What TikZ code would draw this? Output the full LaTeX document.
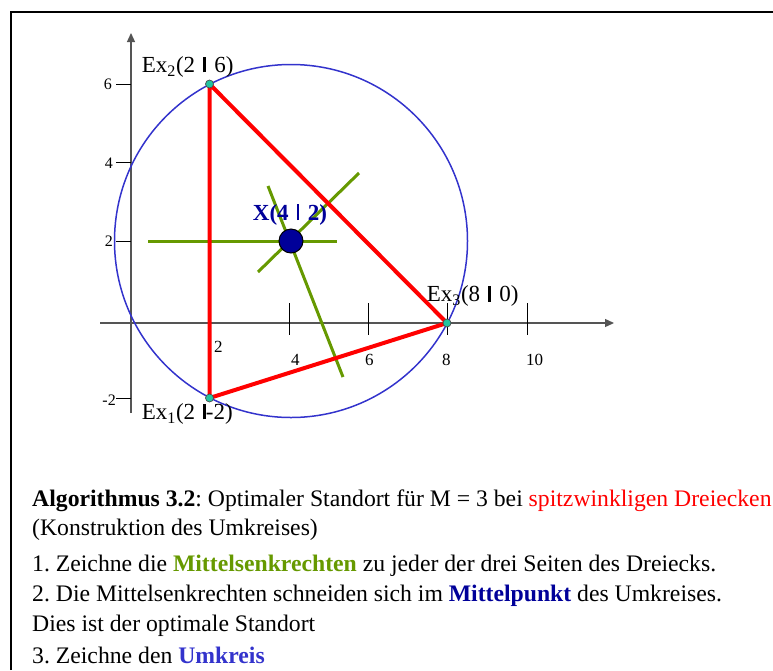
\documentclass[tikz,border=0pt]{standalone}
\usepackage{fontspec}
\setmainfont{Liberation Serif}
\usetikzlibrary{arrows.meta}
\definecolor{mgreen}{HTML}{669900}
\definecolor{mdblue}{HTML}{000099}
\definecolor{mcirc}{HTML}{3333CC}
\definecolor{mteal}{HTML}{22C4A0}
\definecolor{maxis}{HTML}{555555}
\newcommand{\vbar}{\hspace{0.36em}\rule{0.11em}{0.68em}\hspace{0.36em}}
\newcommand{\vbarr}{\hspace{0.36em}\rule{0.11em}{0.68em}}
\begin{document}
\frenchspacing
\begin{tikzpicture}[x=1pt,y=-1pt,
  axisline/.style={maxis,line width=1.3pt},
  tickline/.style={black,line width=1pt},
  triside/.style={red,line width=4pt,line join=round},
  bisect/.style={mgreen,line width=3pt},
  vtx/.style={circle,fill=mteal,draw=black!70,line width=0.7pt,inner sep=0pt,minimum size=8pt},
  ylab/.style={anchor=base east,inner sep=0pt,font=\fontsize{16}{19}\selectfont},
  xlab/.style={anchor=base west,inner sep=0pt,font=\fontsize{17}{20}\selectfont},
  exlab/.style={anchor=base west,inner sep=0pt,font=\fontsize{23}{27}\selectfont},
  txt/.style={anchor=base west,inner sep=0pt,font=\fontsize{23.7}{28}\selectfont}]
\useasboundingbox (0,0) rectangle (773,670);
% frame
\draw[line width=2pt] (11,670) -- (11,12) -- (773,12);
% axes
\coordinate (ybot) at (131,413);
\coordinate (ytop) at (131,33);
\coordinate (xl) at (100,323);
\coordinate (xr) at (614,323);
\draw[axisline,-{Triangle[length=9pt,width=8pt]}] (ybot) -- (ytop);
\draw[axisline,-{Triangle[length=9pt,width=8pt]}] (xl) -- (xr);
% ticks
\foreach \yy in {84,162,241,398} \draw[tickline] (116,\yy) -- (131,\yy);
\foreach \xx in {210,289,368,447,527} \draw[tickline] (\xx,303) -- (\xx,335);
% tick labels
\node[ylab] (l6) at (112,89.3) {6};
\node[ylab] (l4) at (113,168.3) {4};
\node[ylab] (l2) at (113,246.7) {2};
\node[ylab] (lm2) at (116,405) {-2};
\node[xlab] (x2) at (214,352) {2};
\node[xlab] (x4) at (291,365) {4};
\node[xlab] (x6) at (365,365) {6};
\node[xlab] (x8) at (442,365) {8};
\node[xlab] (x10) at (526,365) {10};
% circle
\node[circle,draw=mcirc,line width=1.5pt,minimum size=353pt,inner sep=0pt] (uk) at (291,241) {};
% bisectors
\coordinate (b1a) at (148,241); \coordinate (b1b) at (337,241);
\coordinate (b2a) at (258,272); \coordinate (b2b) at (359,173);
\coordinate (b3a) at (268,186); \coordinate (b3b) at (343,377);
\draw[bisect] (b1a) -- (b1b);
\draw[bisect] (b2a) -- (b2b);
\draw[bisect] (b3a) -- (b3b);
% triangle
\coordinate (E2) at (209.5,84);
\coordinate (E3) at (447,323);
\coordinate (E1) at (209.5,398);
\draw[triside] (E2) -- (E3) -- (E1) -- cycle;
% center
\node[circle,fill=mdblue,draw=black,line width=1pt,minimum size=24pt,inner sep=0pt] (X) at (291,241) {};
\node[vtx] (v2) at (E2) {};
\node[vtx] (v3) at (E3) {};
\node[vtx] (v1) at (E1) {};
% labels
\node[exlab] (t2) at (141.7,72.3) {Ex\textsubscript{2}(2\vbar 6)};
\node[exlab] (t3) at (426.7,301.7) {Ex\textsubscript{3}(8\vbar 0)};
\node[exlab] (t1) at (141.7,419.3) {Ex\textsubscript{1}(2\vbarr -2)};
\node[anchor=base west,inner sep=0pt,font=\fontsize{23}{27}\selectfont\bfseries,text=mdblue] (tx) at (252.7,220) {X(4\vbar 2)};
% text
\node[txt] (a1) at (32,506.7) {\textbf{Algorithmus 3.2}: Optimaler Standort für M = 3 bei \textcolor{red}{spitzwinkligen Dreiecken}};
\node[txt] (a2) at (32,535) {(Konstruktion des Umkreises)};
\node[txt] (a3) at (32,571.7) {1. Zeichne die \textcolor{mgreen}{\textbf{Mittelsenkrechten}} zu jeder der drei Seiten des Dreiecks.};
\node[txt] (a4) at (32,601.7) {2. Die Mittelsenkrechten schneiden sich im \textcolor{mdblue}{\textbf{Mittelpunkt}} des Umkreises.};
\node[txt] (a5) at (32,631.7) {Dies ist der optimale Standort};
\node[txt] (a6) at (32,663) {3. Zeichne den \textcolor{mcirc}{\textbf{Umkreis}}};
\end{tikzpicture}
\end{document}
